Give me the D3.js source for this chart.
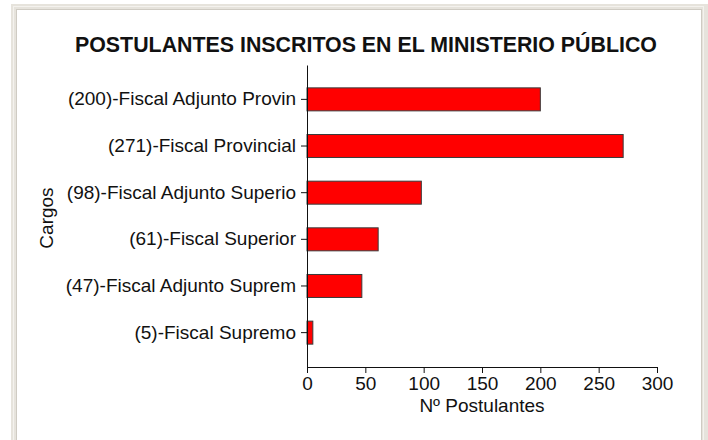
<!DOCTYPE html>
<html lang="es">
<head>
<meta charset="utf-8">
<title>Postulantes inscritos</title>
<script src="https://d3js.org/d3.v7.min.js"></script>
<style>
  body { margin: 0; background: #fff; }
  text { font-family: "Liberation Sans", Arial, sans-serif; fill: #111; }
</style>
</head>
<body>
<script>
var w = 708, h = 440;

var cargos = ["(200)-Fiscal Adjunto Provin", "(271)-Fiscal Provincial", "(98)-Fiscal Adjunto Superio",
              "(61)-Fiscal Superior", "(47)-Fiscal Adjunto Suprem", "(5)-Fiscal Supremo"];
var postulantes = [200, 271, 98, 61, 47, 5];
var xTicks = [0, 50, 100, 150, 200, 250, 300];

var titulo = "POSTULANTES INSCRITOS EN EL MINISTERIO PÚBLICO";
var ejeX = "Nº Postulantes";
var ejeY = "Cargos";

var svg = d3.select("body").append("svg")
    .attr("width", w)
    .attr("height", h);

// marco estilo ventana
svg.append("rect").attr("x", 11).attr("y", 4).attr("width", 697).attr("height", 440)
   .attr("fill", "#e6e3dc");
svg.append("rect").attr("x", 13.5).attr("y", 6.5).attr("width", 690).attr("height", 440)
   .attr("fill", "none").attr("stroke", "#f4f2ee").attr("stroke-width", 1);
svg.append("rect").attr("x", 16.5).attr("y", 9.5).attr("width", 685).attr("height", 440)
   .attr("fill", "#fff").attr("stroke", "#cfcbc3").attr("stroke-width", 1);

var x = d3.scaleLinear().domain([0, 300]).range([307, 657]);
var y = d3.scaleBand().domain(cargos).range([65, 367])
    .paddingInner(0.507).paddingOuter(0.49);

svg.append("text")
   .attr("x", 366).attr("y", 52)
   .attr("text-anchor", "middle")
   .attr("font-size", 22).attr("font-weight", "bold")
   .attr("textLength", 582).attr("lengthAdjust", "spacingAndGlyphs")
   .text(titulo);

svg.selectAll("rect.bar")
   .data(postulantes)
   .enter()
   .append("rect")
   .attr("class", "bar")
   .attr("x", x(0))
   .attr("y", function(d, i) { return y(cargos[i]); })
   .attr("width", function(d) { return x(d) - x(0); })
   .attr("height", y.bandwidth())
   .attr("fill", "#ff0000")
   .attr("stroke", "#3a3a3a")
   .attr("stroke-width", 1);

var gx = svg.append("g")
    .attr("transform", "translate(0,367)")
    .call(d3.axisBottom(x).tickValues(xTicks).tickSizeInner(6).tickSizeOuter(0).tickPadding(4));

var gy = svg.append("g")
    .attr("transform", "translate(307,0)")
    .call(d3.axisLeft(y).tickSizeInner(6).tickSizeOuter(0).tickPadding(5));

[gx, gy].forEach(function(g) {
    g.attr("font-family", null).attr("font-size", null);
    g.selectAll("path, line").attr("stroke", "#111");
    g.selectAll("text").attr("font-size", 19).attr("fill", "#1a1a1a");
});

svg.append("text")
   .attr("x", 482).attr("y", 412)
   .attr("text-anchor", "middle")
   .attr("font-size", 19)
   .text(ejeX);

svg.append("text")
   .attr("transform", "translate(53,218) rotate(-90)")
   .attr("text-anchor", "middle")
   .attr("font-size", 19)
   .text(ejeY);
</script>
</body>
</html>
